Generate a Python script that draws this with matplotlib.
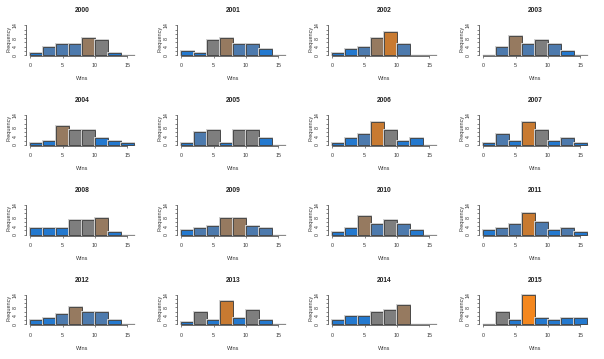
import matplotlib
matplotlib.use('Agg')
import matplotlib.pyplot as plt
import matplotlib.patheffects as pe

plt.rcParams['font.family'] = ['Liberation Sans', 'DejaVu Sans']

# Data: histogram counts of team wins per season (bins of 2 wins, 0-16)
BIN_EDGES = [0, 2, 4, 6, 8, 10, 12, 14, 16]
YEARS = list(range(2000, 2016))

counts_2000 = [1, 4, 5, 5, 8, 7, 1, 0]
counts_2001 = [2, 1, 7, 8, 5, 5, 3, 0]
counts_2002 = [1, 3, 4, 8, 11, 5, 0, 0]
counts_2003 = [0, 4, 9, 5, 7, 5, 2, 0]
counts_2004 = [1, 2, 9, 7, 7, 3, 2, 1]
counts_2005 = [1, 6, 7, 1, 7, 7, 3, 0]
counts_2006 = [1, 3, 5, 11, 7, 2, 3, 0]
counts_2007 = [1, 5, 2, 11, 7, 2, 3, 1]
counts_2008 = [3, 3, 3, 7, 7, 8, 1, 0]
counts_2009 = [2, 3, 4, 8, 8, 4, 3, 0]
counts_2010 = [1, 3, 9, 5, 7, 5, 2, 0]
counts_2011 = [2, 3, 5, 10, 6, 2, 3, 1]
counts_2012 = [2, 3, 5, 8, 6, 6, 2, 0]
counts_2013 = [1, 6, 2, 11, 3, 7, 2, 0]
counts_2014 = [2, 4, 4, 6, 7, 9, 0, 0]
counts_2015 = [0, 6, 2, 14, 3, 2, 3, 3]

# bar colour codes per bin
shades_2000 = 'bsssrgb-'
shades_2001 = 'bbgrssb-'
shades_2002 = 'bbsros--'
shades_2003 = '-srsgsb-'
shades_2004 = 'bbrggbbb'
shades_2005 = 'bsgbggb-'
shades_2006 = 'bbsogbb-'
shades_2007 = 'bsbogbsb'
shades_2008 = 'bbbggrb-'
shades_2009 = 'bssrrss-'
shades_2010 = 'bbrsgsb-'
shades_2011 = 'bssosbsb'
shades_2012 = 'bbsrssb-'
shades_2013 = 'bgbobgb-'
shades_2014 = 'bbbggr--'
shades_2015 = '-gbObbbb'

ALL_COUNTS = [counts_2000, counts_2001, counts_2002, counts_2003,
              counts_2004, counts_2005, counts_2006, counts_2007,
              counts_2008, counts_2009, counts_2010, counts_2011,
              counts_2012, counts_2013, counts_2014, counts_2015]
ALL_SHADES = [shades_2000, shades_2001, shades_2002, shades_2003,
              shades_2004, shades_2005, shades_2006, shades_2007,
              shades_2008, shades_2009, shades_2010, shades_2011,
              shades_2012, shades_2013, shades_2014, shades_2015]

PALETTE = {
    'b': '#2479CF',
    's': '#4D7AAD',
    'g': '#7E7E7E',
    'r': '#967A60',
    'o': '#C87A31',
    'O': '#F4871E',
    '-': '#7E7E7E',
}

W, H = 604, 359
fig = plt.figure(figsize=(W / 100, H / 100), dpi=100)
fig.patch.set_facecolor('white')

PW, PH = W / 4, H / 4
AX_L, AX_W = 26, 112
AX_T, AX_H = 24.3, 31.9
XSPAN = 17.28

halo = [pe.Stroke(linewidth=1.4, foreground='#cfcfcf'), pe.Normal()]

for i, year in enumerate(YEARS):
    r, c = divmod(i, 4)
    left = c * PW + AX_L
    top = r * PH + AX_T
    ax = fig.add_axes([left / W, 1 - (top + AX_H) / H, AX_W / W, AX_H / H])

    lefts = BIN_EDGES[:-1]
    widths = [BIN_EDGES[k + 1] - BIN_EDGES[k] for k in range(len(lefts))]
    ax.plot([BIN_EDGES[0], BIN_EDGES[-1]], [0, 0], color='#8a8a8a', lw=0.9, zorder=1)
    cols = [PALETTE[s] for s in ALL_SHADES[i]]
    bars = ax.bar(lefts, ALL_COUNTS[i], width=widths, align='edge',
                  color=cols, edgecolor='#3a3a3a', linewidth=0.6, zorder=2)
    for b, h in zip(bars, ALL_COUNTS[i]):
        if h > 0:
            b.set_path_effects(halo)
        else:
            b.set_visible(False)

    ax.set_xlim(-0.64, 16.64)
    ax.set_ylim(-0.56, 14.56)
    for s in ['top', 'right']:
        ax.spines[s].set_visible(False)
    ax.spines['left'].set_bounds(0, 14)
    ax.spines['bottom'].set_bounds(0, 15)
    for s in ['left', 'bottom']:
        ax.spines[s].set_color('#555555')
        ax.spines[s].set_linewidth(0.6)
    ax.set_facecolor('none')

    ax.set_xticks([0, 5, 10, 15])
    ax.set_xticklabels(['0', '5', '10', '15'])
    ax.set_yticks([0, 2, 4, 6, 8, 10, 12, 14])
    ax.set_yticklabels(['0', '', '4', '', '8', '', '', '14'], rotation=90, va='center')
    ax.tick_params(axis='both', length=1.6, width=0.5, color='#555555',
                   labelsize=3.8, labelcolor='#333333')
    ax.tick_params(axis='x', pad=3.6)
    ax.tick_params(axis='y', pad=4.4)

    px0 = c * PW
    py0 = r * PH
    mid_x = px0 + AX_L + (8 + 0.64) * AX_W / XSPAN
    fig.text(mid_x / W, 1 - (py0 + 11) / H, str(year), ha='center', va='center',
             fontsize=4.8, fontweight='bold', color='#222222')
    fig.text(mid_x / W, 1 - (py0 + 79) / H, 'Wins',
             ha='center', va='center', fontsize=4.0, color='#333333')
    fig.text((px0 + 9) / W, 1 - (py0 + 38.5) / H, 'Frequency', rotation=90,
             ha='center', va='center', fontsize=4.0, color='#333333')

fig.savefig('out.png', dpi=100)
